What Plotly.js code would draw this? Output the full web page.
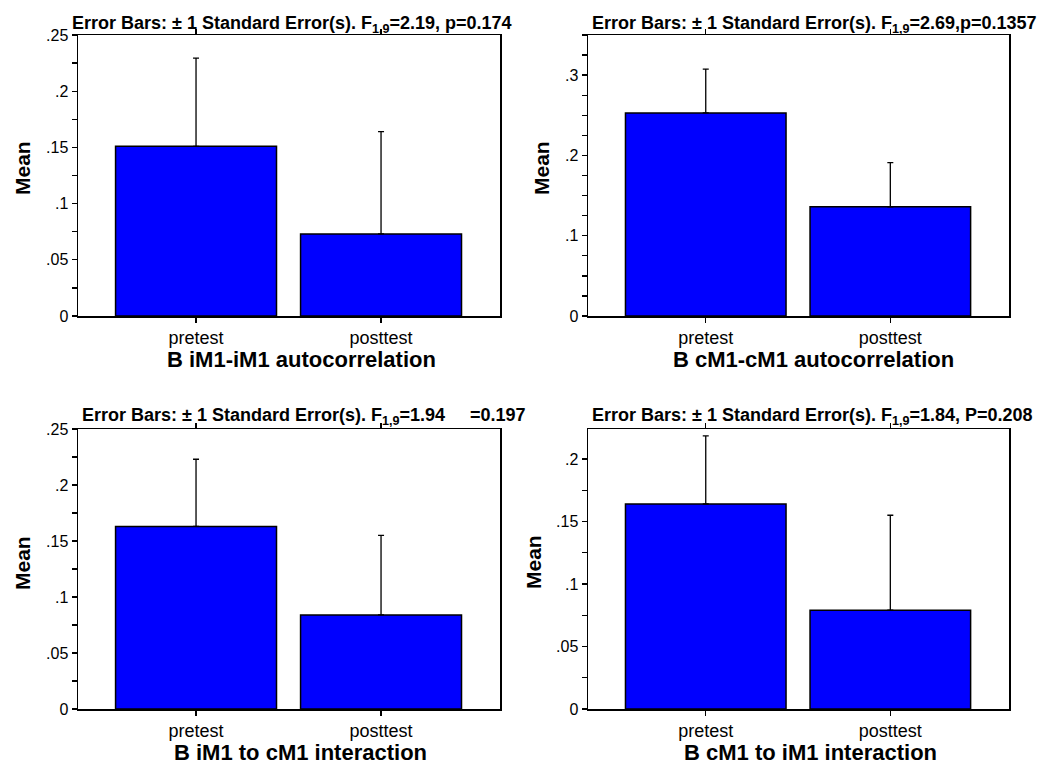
<!DOCTYPE html>
<html>
<head>
<meta charset="utf-8">
<script src="https://cdn.plot.ly/plotly-3.0.1.min.js"></script>
<style>html,body{margin:0;padding:0;background:#fff;}#chart{width:1045px;height:764px;}</style>
</head>
<body>
<div id="chart"></div>
<script>
// ---- data ----
const categories = ["pretest", "posttest"];

const meanIM1auto = [0.151, 0.073];
const seIM1auto   = [0.0785, 0.091];

const meanCM1auto = [0.253, 0.136];
const seCM1auto   = [0.0545, 0.055];

const meanIM1toCM1 = [0.163, 0.084];
const seIM1toCM1   = [0.060, 0.071];

const meanCM1toIM1 = [0.164, 0.079];
const seCM1toIM1   = [0.0545, 0.076];

const panelTitles = [
  "Error Bars: \u00B1 1 Standard Error(s). F<sub>1,9</sub>=2.19, p=0.174",
  "Error Bars: \u00B1 1 Standard Error(s). F<sub>1,9</sub>=2.69,p=0.1357",
  "Error Bars: \u00B1 1 Standard Error(s). F<sub>1,9</sub>=1.94\u00A0\u00A0\u00A0\u00A0\u00A0=0.197",
  "Error Bars: \u00B1 1 Standard Error(s). F<sub>1,9</sub>=1.84, P=0.208"
];
const xTitles = [
  "B iM1-iM1 autocorrelation",
  "B cM1-cM1 autocorrelation",
  "B iM1 to cM1 interaction",
  "B cM1 to iM1 interaction"
];
const yTitle = "Mean";

const yMajorVals05 = [0, 0.05, 0.1, 0.15, 0.2, 0.25];
const yMajorText05 = ["0", ".05", ".1", ".15", ".2", ".25"];
const yMajorVals1 = [0, 0.1, 0.2, 0.3];
const yMajorText1 = ["0", ".1", ".2", ".3"];
const yMinorVals = [0.025, 0.05, 0.075, 0.1, 0.125, 0.15, 0.175, 0.2, 0.225, 0.25, 0.275, 0.3, 0.325, 0.35];

const yMax = [0.25, 0.35, 0.25, 0.224];

// ---- layout helpers ----
const W = 1045, H = 764;
const FONT = "Liberation Sans, Arial, sans-serif";
const plotBoxes = [ // [left, right, top, bottom] in px
  [78, 500, 35, 316],
  [588, 1009, 35, 316],
  [78, 500, 429, 709],
  [588, 1009, 429, 709]
];
const titleLeft = [70, 590, 80, 590];
const titleMid = [24, 24, 417, 416];
const xTitleCenter = [301, 813, 300, 810];
const xTitleMid = [360, 360, 752, 752];
const yTitleX = [22, 541, 22, 533];
const yTitleMid = [168, 168, 563, 562];

const series = [
  [meanIM1auto, seIM1auto],
  [meanCM1auto, seCM1auto],
  [meanIM1toCM1, seIM1toCM1],
  [meanCM1toIM1, seCM1toIM1]
];
const tickSets = [
  [yMajorVals05, yMajorText05],
  [yMajorVals1, yMajorText1],
  [yMajorVals05, yMajorText05],
  [yMajorVals05, yMajorText05]
];

const data = [];
const layout = {
  width: W, height: H,
  margin: {l: 0, r: 0, t: 0, b: 0},
  paper_bgcolor: "#fff", plot_bgcolor: "#fff",
  showlegend: false,
  font: {family: FONT, color: "#000"},
  annotations: []
};

for (let i = 0; i < 4; i++) {
  const n = i === 0 ? "" : String(i + 1);
  const [l, r, t, b] = plotBoxes[i];
  const [m, se] = series[i];
  data.push({
    type: "bar",
    x: categories,
    y: m,
    xaxis: "x" + n,
    yaxis: "y" + n,
    width: 0.87,
    marker: {color: "#0000FF", line: {color: "#000", width: 1.5}},
    error_y: {
      type: "data", symmetric: false,
      array: se, arrayminus: se.map(() => 0),
      color: "#000", thickness: 1.3, width: 3
    },
    hoverinfo: "skip"
  });
  layout["xaxis" + n] = {
    domain: [l / W, r / W],
    anchor: "y" + n,
    type: "category",
    range: [-0.638, 1.643],
    showline: true, linecolor: "#000", linewidth: 1.5,
    mirror: "ticks",
    ticks: "outside", ticklen: 5, tickwidth: 1.3, tickcolor: "#000",
    showgrid: false, zeroline: false,
    tickfont: {family: FONT, size: 18, color: "#000"},
    automargin: false,
    fixedrange: true
  };
  layout["yaxis" + n] = {
    domain: [1 - b / H, 1 - t / H],
    anchor: "x" + n,
    range: [0, yMax[i]],
    showline: true, linecolor: "#000", linewidth: 1.5,
    mirror: true,
    ticks: "outside", ticklen: 5, tickwidth: 1.3, tickcolor: "#000",
    tickmode: "array", tickvals: tickSets[i][0], ticktext: tickSets[i][1],
    minor: {tickmode: "array", tickvals: yMinorVals, ticks: "outside", ticklen: 5, tickwidth: 1.3, tickcolor: "#000", showgrid: false},
    showgrid: false, zeroline: false,
    tickfont: {family: FONT, size: 16, color: "#000"},
    automargin: false,
    fixedrange: true
  };
  layout.annotations.push({
    xref: "paper", yref: "paper",
    x: titleLeft[i] / W, y: 1 - titleMid[i] / H,
    xanchor: "left", yanchor: "middle",
    showarrow: false,
    text: "<b>" + panelTitles[i] + "</b>",
    font: {family: FONT, size: 18, color: "#000"}
  });
  layout.annotations.push({
    xref: "paper", yref: "paper",
    x: xTitleCenter[i] / W, y: 1 - xTitleMid[i] / H,
    xanchor: "center", yanchor: "middle",
    showarrow: false,
    text: "<b>" + xTitles[i] + "</b>",
    font: {family: FONT, size: 22, color: "#000"}
  });
  layout.annotations.push({
    xref: "paper", yref: "paper",
    x: yTitleX[i] / W, y: 1 - yTitleMid[i] / H,
    xanchor: "center", yanchor: "middle",
    textangle: -90,
    showarrow: false,
    text: "<b>" + yTitle + "</b>",
    font: {family: FONT, size: 21, color: "#000"}
  });
}

Plotly.newPlot("chart", data, layout, {staticPlot: true, displayModeBar: false});
</script>
</body>
</html>
